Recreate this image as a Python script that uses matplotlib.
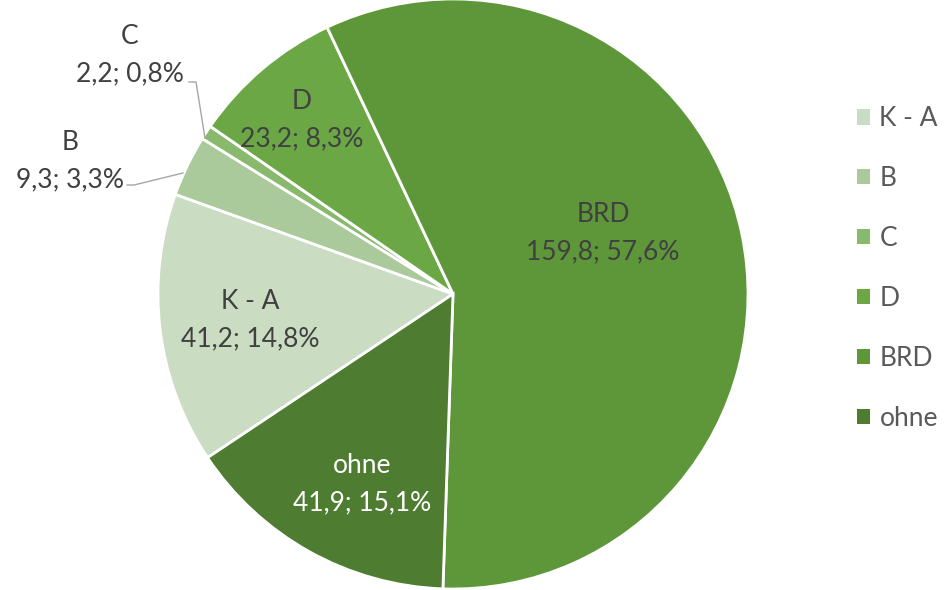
import numpy as np
import matplotlib.pyplot as plt
from matplotlib.patches import Patch

plt.rcParams['font.family'] = ['Lato', 'DejaVu Sans']

categories = ['K - A', 'B', 'C', 'D', 'BRD', 'ohne']
values = [41.2, 9.3, 2.2, 23.2, 159.8, 41.9]
pct_labels = ['14,8%', '3,3%', '0,8%', '8,3%', '57,6%', '15,1%']
colors = ['#cadcc1', '#abca9c', '#89b96d', '#6ba845', '#5e9739', '#4e7c31']

W, H = 945, 590
fig = plt.figure(figsize=(W / 100, H / 100), dpi=100)
cx, cy, r = 453, 294, 295
ax = fig.add_axes([(cx - r) / W, (H - cy - r) / H, 2 * r / W, 2 * r / H])

wedges, _ = ax.pie(values, colors=colors, startangle=213.7, counterclock=False,
                   radius=1, wedgeprops=dict(edgecolor='white', linewidth=2))
ax.set_xlim(-1, 1)
ax.set_ylim(-1, 1)
ax.axis('off')


def px(x, y):
    return (x - cx) / r, (cy - y) / r


def fmt(v):
    return ('%.1f' % v).replace('.', ',')


# label centres (pixel layout), text colour
label_layout = [(250, 320), (70, 161), (130, 55), (302, 120), (603, 233), (362, 484)]
text_colors = ['#404040', '#404040', '#404040', '#404040', '#404040', 'white']
for i, cat in enumerate(categories):
    x, y = px(*label_layout[i])
    ax.text(x, y, '%s\n%s; %s' % (cat, fmt(values[i]), pct_labels[i]),
            ha='center', va='center', fontsize=19, color=text_colors[i],
            linespacing=1.6, clip_on=False)

# leader lines for outside labels
leaders = {1: [(127, 185), (134, 185), (183, 173)],
           2: [(189, 82), (196, 82), (205, 138)]}
for pts in leaders.values():
    xs, ys = zip(*[px(*p) for p in pts])
    ax.plot(xs, ys, color='#a6a6a6', lw=1, clip_on=False)

handles = [Patch(facecolor=c, edgecolor='none') for c in colors]
fig.legend(handles, categories, loc='center left', bbox_to_anchor=(0.8957, 0.545),
           frameon=False, fontsize=19, labelcolor='#595959', handlelength=0.5,
           handleheight=0.5, handletextpad=0.35, labelspacing=1.32, borderaxespad=0)

fig.savefig('out.png', dpi=100)
